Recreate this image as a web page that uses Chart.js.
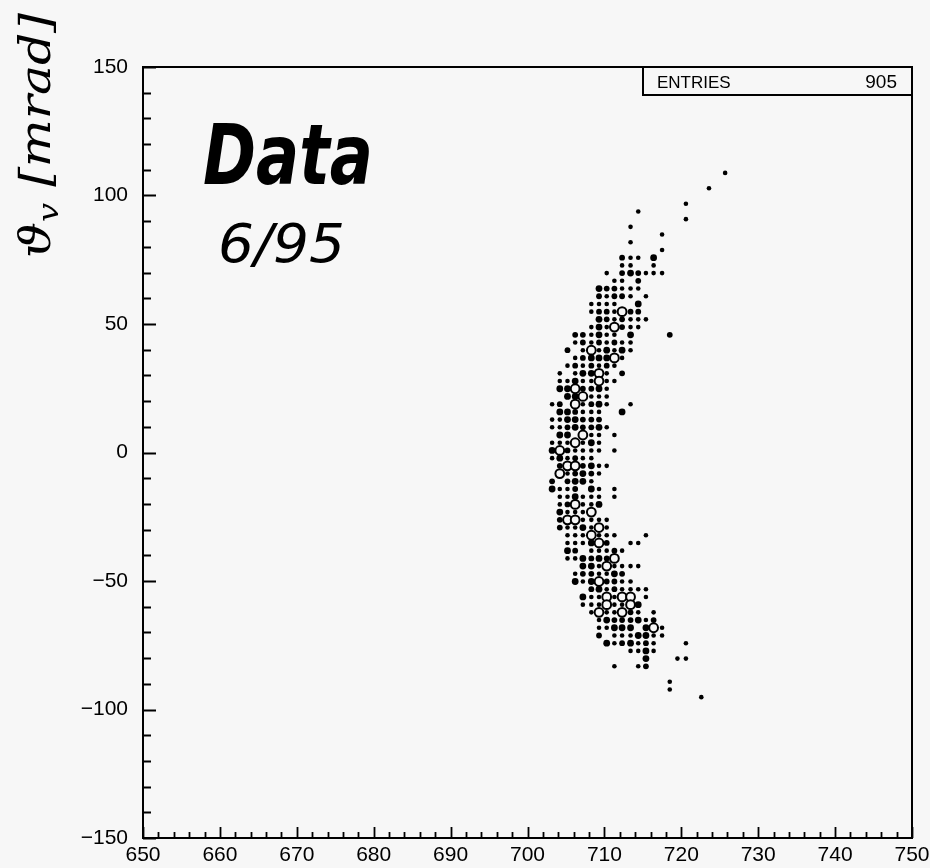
<!DOCTYPE html>
<html>
<head>
<meta charset="utf-8">
<script src="https://cdn.jsdelivr.net/npm/chart.js@4.4.1/dist/chart.umd.min.js"></script>
<style>
html, body { margin: 0; padding: 0; background: #f7f7f7; }
canvas { display: block; }
</style>
</head>
<body>
<canvas id="scatterChart" width="930" height="868"></canvas>
<script>
// x bin centres (one per column of the box plot)
const colX = [703.2, 704.2, 705.2, 706.2, 707.2, 708.3, 709.3, 710.3, 711.3, 712.3, 713.4, 714.4,
              715.4, 716.4, 717.5, 718.5, 719.5, 720.6, 721.6, 722.6, 723.6, 724.6, 725.7, 726.7];

// y bin centres, top row first (mrad)
const rowY = [108.8, 105.8, 102.8, 99.8, 96.8, 93.8, 90.8, 87.8, 84.8, 81.8,
              78.8, 75.8, 72.8, 69.8, 66.8, 63.8, 60.8, 57.8, 54.8, 51.8,
              48.8, 45.8, 42.8, 39.8, 36.8, 33.8, 30.8, 27.8, 24.8, 21.8,
              18.8, 15.8, 12.8, 9.8, 6.8, 3.8, 0.8, -2.2, -5.2, -8.2,
              -11.2, -14.2, -17.2, -20.2, -23.2, -26.2, -29.2, -32.2, -35.2, -38.2,
              -41.2, -44.2, -47.2, -50.2, -53.2, -56.2, -59.2, -62.2, -65.2, -68.2,
              -71.2, -74.2, -77.2, -80.2, -83.2, -86.2, -89.2, -92.2, -95.2];

// cell contents per row: "firstColumn:cells", '.' = empty bin
// 1 small dot, 2 medium dot, 3 big dot, 5 open circle
const rowCells = [
  "22:1", "", "20:1", "", "17:1", "11:1", "17:1", "10:1", "14:1", "10:1",
  "14:1", "9:211.3", "9:11..1", "7:1.232111", "8:11.2", "6:322111", "6:21221.1", "5:1111..3", "5:1221522", "6:3212111",
  "5:1315211", "3:221311.3....2", "3:12121211", "2:2.1513131", "3:1233351", "2:1212121", "1:1.13351.2", "1:11311511", "1:3352231", "2:335111",
  "0:12.51231..1", "1:332111..3", "0:1133222", "0:11232231", "1:33.511.1", "0:1115131", "0:3521111.1", "0:131211", "1:2552311", "1:512321",
  "0:2.2331", "0:3112.31.1", "1:113111.1", "1:125113", "1:31115", "1:2551111", "1:2113151", "2:1115111...1", "2:111352..11", "2:32.11121",
  "2:1132325", "4:33151111", "3:1221132", "3:31352211", "5:23121111", "4:3115155.1", "4:11151153", "5:1511521.1", "6:13222312", "6:11333.351",
  "6:2.1113311", "7:3123121...1", "10:1131", "12:3...11", "8:1..12", "", "15:1", "15:1", "19:1"
];

const xTicks = [650, 660, 670, 680, 690, 700, 710, 720, 730, 740, 750];
const yTicks = [-150, -100, -50, 0, 50, 100, 150];
const entries = 905;

const bg = '#f7f7f7';

// unpack the rows into points
const filled = [];
const open = [];
rowCells.forEach((row, j) => {
  if (!row) return;
  const [start, cells] = row.split(':');
  [...cells].forEach((c, i) => {
    if (c === '.') return;
    const n = Number(c);
    const pt = { x: colX[Number(start) + i], y: rowY[j], n: n };
    if (n >= 5) open.push(pt); else filled.push(pt);
  });
});

const dotRadius = { 1: 2.3, 2: 2.9, 3: 3.4 };

const framePlugin = {
  id: 'frame',
  beforeDraw(chart) {
    const c = chart.ctx;
    c.save();
    c.fillStyle = bg;
    c.fillRect(0, 0, chart.width, chart.height);
    c.restore();
  },
  afterDraw(chart) {
    const c = chart.ctx;
    const a = chart.chartArea;
    const xs = chart.scales.x;
    const ys = chart.scales.y;
    c.save();
    c.strokeStyle = '#000';
    c.lineWidth = 2;
    c.strokeRect(a.left, a.top, a.right - a.left, a.bottom - a.top);

    // inner ticks
    c.lineWidth = 1.8;
    c.beginPath();
    for (let v = -150; v <= 150; v += 10) {
      const y = Math.round(ys.getPixelForValue(v)) + 0.5;
      const len = v % 50 === 0 ? 13 : 8;
      c.moveTo(a.left, y);
      c.lineTo(a.left + len, y);
    }
    for (let v = 650; v <= 750; v += 2) {
      const x = Math.round(xs.getPixelForValue(v)) + 0.5;
      const len = v % 10 === 0 ? 11 : 6;
      c.moveTo(x, a.bottom);
      c.lineTo(x, a.bottom - len);
    }
    c.stroke();

    // statistics box
    c.lineWidth = 2;
    c.strokeRect(643, a.top, a.right - 643, 28);
    c.fillStyle = '#000';
    c.font = '17px "Liberation Sans"';
    c.textBaseline = 'alphabetic';
    c.textAlign = 'left';
    c.fillText('ENTRIES', 657, a.top + 21);
    c.textAlign = 'right';
    c.font = '19px "Liberation Sans"';
    c.fillText(String(entries), a.right - 15, a.top + 21);

    // handwritten notes
    c.textAlign = 'left';
    c.font = 'bold italic 84px "DejaVu Sans"';
    let w = c.measureText('Data').width;
    c.save();
    c.translate(203, 184);
    c.scale(170 / w, 1);
    c.fillText('Data', 0, 0);
    c.restore();

    c.font = 'italic 54px "DejaVu Sans"';
    w = c.measureText('6/95').width;
    c.save();
    c.translate(218, 262);
    c.scale(127 / w, 1);
    c.fillText('6/95', 0, 0);
    c.restore();

    // axis title, rotated
    const big = 'italic 42px "DejaVu Serif"';
    const small = 'italic 28px "DejaVu Serif"';
    c.font = big;
    const w1 = c.measureText('ϑ').width;
    const w3 = c.measureText(' [mrad]').width;
    c.font = small;
    const w2 = c.measureText('v').width;
    c.save();
    c.translate(50, 258);
    c.rotate(-Math.PI / 2);
    c.scale(245 / (w1 + w2 + w3), 1);
    c.font = big;
    c.fillText('ϑ', 0, 0);
    c.font = small;
    c.fillText('v', w1, 8);
    c.font = big;
    c.fillText(' [mrad]', w1 + w2, 0);
    c.restore();

    c.restore();
  }
};

const tickLabel = v => (v < 0 ? '\u2212' + Math.abs(v) : String(v));

new Chart(document.getElementById('scatterChart').getContext('2d'), {
  type: 'scatter',
  data: {
    datasets: [{
      label: 'bins',
      data: filled,
      pointStyle: 'circle',
      pointRadius: ctx => dotRadius[ctx.raw.n],
      pointHoverRadius: ctx => dotRadius[ctx.raw.n],
      backgroundColor: '#000',
      borderWidth: 0
    }, {
      label: 'dense bins',
      data: open,
      pointStyle: 'circle',
      pointRadius: 4.4,
      pointHoverRadius: 4.4,
      backgroundColor: bg,
      borderColor: '#000',
      borderWidth: 2
    }]
  },
  options: {
    responsive: false,
    animation: false,
    events: [],
    layout: { padding: { top: 67, right: 18, left: 0, bottom: 0 } },
    plugins: { legend: { display: false }, tooltip: { enabled: false } },
    scales: {
      x: {
        type: 'linear',
        min: 650,
        max: 750,
        afterBuildTicks: s => { s.ticks = xTicks.map(v => ({ value: v })); },
        afterFit: s => { s.height = 30; s.paddingLeft = 0; s.paddingRight = 0; },
        grid: { display: false, drawTicks: false },
        border: { display: false },
        ticks: {
          autoSkip: false,
          maxRotation: 0,
          padding: 5,
          color: '#000',
          font: { family: 'Liberation Sans', size: 21 },
          callback: tickLabel
        }
      },
      y: {
        type: 'linear',
        min: -150,
        max: 150,
        afterBuildTicks: s => { s.ticks = yTicks.map(v => ({ value: v })); },
        afterFit: s => { s.width = 143; s.paddingTop = 0; s.paddingBottom = 0; },
        grid: { display: false, drawTicks: false },
        border: { display: false },
        ticks: {
          autoSkip: false,
          padding: 15,
          color: '#000',
          font: { family: 'Liberation Sans', size: 21 },
          callback: tickLabel
        }
      }
    }
  },
  plugins: [framePlugin]
});
</script>
</body>
</html>
